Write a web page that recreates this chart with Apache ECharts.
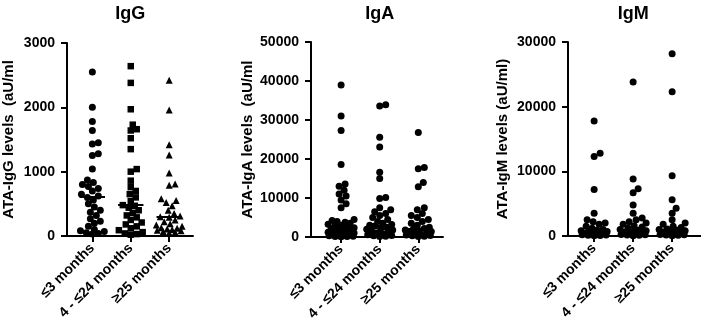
<!DOCTYPE html>
<html>
<head>
<meta charset="utf-8">
<script src="https://cdn.jsdelivr.net/npm/echarts@6/dist/echarts.min.js"></script>
<style>
  html, body { margin: 0; padding: 0; background: #fff; }
  #chart { width: 701px; height: 331px; }
</style>
</head>
<body>
<div id="chart"></div>
<script>
// categories
const groups = ['≤3 months', '4 - ≤24 months', '≥25 months'];
const panelTitles = ['IgG', 'IgA', 'IgM'];
const yNames = ['ATA-IgG levels  (aU/ml', 'ATA-IgA levels  (aU/ml', 'ATA-IgM levels (aU/ml)'];
const yMax = [3000, 50000, 30000];
const yStep = [1000, 10000, 10000];

// IgG
const iggShort = [2550, 2000, 1780, 1640, 1450, 1430, 1280, 1250, 1040, 870, 830, 800, 770, 740, 700, 650, 620, 600, 560, 500, 450, 400, 370, 320, 270, 230, 200, 150, 100, 80, 70, 50, 40, 30];
const iggMid = [2640, 2380, 1970, 1730, 1660, 1640, 1520, 1350, 1040, 1000, 860, 760, 700, 650, 600, 540, 480, 470, 440, 400, 360, 320, 290, 250, 210, 180, 150, 120, 90, 60, 40, 30, 20];
const iggLong = [2420, 1960, 1420, 1260, 980, 810, 790, 580, 550, 520, 470, 400, 350, 310, 300, 290, 250, 220, 190, 170, 150, 130, 120, 110, 100, 90, 80, 70, 60, 50];
const iggMedians = [610, 480, 300];

// IgA
const igaShort = [39000, 31000, 27300, 18600, 13600, 13000, 12000, 11000, 10500, 9500, 8500, 7500, 4500, 4200, 4000, 3800, 3500, 3300, 3000, 2800, 2600, 2400, 2200, 2000, 1800, 1600, 1400, 1200, 1000, 900, 800, 700, 600, 500, 400, 300, 200, 150, 100, 80];
const igaMid = [33900, 33600, 25600, 23100, 16600, 15000, 10100, 9900, 7500, 7000, 6500, 6000, 5500, 5000, 4500, 4000, 3500, 3200, 3000, 2800, 2500, 2200, 2000, 1800, 1500, 1200, 1000, 800, 600, 400, 300, 200, 100];
const igaLong = [26800, 17800, 17500, 14000, 12900, 7500, 7000, 6000, 5500, 5000, 4500, 4000, 3500, 3000, 2500, 2200, 2000, 1800, 1600, 1400, 1200, 1000, 800, 600, 500, 400, 300, 200, 100];
const igaMedians = [3000, 2800, 2100];

// IgM
const igmShort = [17800, 12800, 12300, 7200, 3500, 2500, 2200, 2000, 1800, 1500, 1200, 1000, 900, 800, 700, 600, 500, 450, 400, 350, 300, 250, 200, 150, 100, 80, 50];
const igmMid = [23800, 8800, 7300, 6700, 4800, 3500, 2800, 2500, 2200, 2000, 1800, 1600, 1400, 1200, 1000, 900, 800, 700, 600, 500, 400, 300, 250, 200, 150, 100, 50];
const igmLong = [28200, 22300, 9300, 5600, 4300, 3500, 2500, 2000, 1800, 1500, 1300, 1100, 1000, 900, 800, 700, 600, 500, 400, 300, 250, 200, 150, 100, 50];
const igmMedians = [600, 800, 700];

const panelData = [
  [iggShort, iggMid, iggLong],
  [igaShort, igaMid, igaLong],
  [igmShort, igmMid, igmLong]
];
const panelMedians = [iggMedians, igaMedians, igmMedians];
const symbols = [['circle', 'rect', 'triangle'], ['circle', 'circle', 'circle'], ['circle', 'circle', 'circle']];

// layout of each panel (px)
const grids = [
  { left: 66, top: 43, width: 127, height: 193, xMin: -0.66, xMax: 2.62, gap: 51 },
  { left: 311, top: 42, width: 132, height: 195, xMin: -0.78, xMax: 2.64, gap: 56 },
  { left: 568, top: 42, width: 133, height: 194, xMin: -0.67, xMax: 2.74, gap: 58 }
];

// simple beeswarm: spread points sideways so they don't overlap too much
function swarm(values, pxPerY, pxPerCat, maxPx, diam) {
  const order = values.map((v, i) => i).sort((a, b) => values[a] - values[b]);
  const placed = [];
  const xs = new Array(values.length);
  order.forEach(i => {
    const y = values[i] * pxPerY;
    let best = 0, bestScore = -1;
    for (let k = 0; k <= 2 * maxPx; k++) {
      const x = (k % 2 ? 1 : -1) * Math.ceil(k / 2);
      let minD = Infinity;
      placed.forEach(p => {
        const d = Math.hypot(p[0] - x, p[1] - y);
        if (d < minD) minD = d;
      });
      if (minD >= diam) { best = x; break; }
      if (minD > bestScore) { bestScore = minD; best = x; }
    }
    placed.push([best, y]);
    xs[i] = best / pxPerCat;
  });
  return xs;
}

const font = '"Liberation Sans", Arial, sans-serif';
const option = {
  animation: false,
  backgroundColor: '#fff',
  graphic: [], grid: [], xAxis: [], yAxis: [], series: []
};

grids.forEach((g, p) => {
  const pxPerCat = g.width / (g.xMax - g.xMin);
  // panel title centred over the middle group
  option.graphic.push({
    type: 'text',
    x: g.left + pxPerCat * (1 - g.xMin),
    y: 5,
    style: {
      text: panelTitles[p], textAlign: 'center', textVerticalAlign: 'top',
      font: 'bold 18px ' + font, fill: '#000'
    }
  });
  option.grid.push({ left: g.left, top: g.top, width: g.width, height: g.height });
  option.xAxis.push({
    type: 'value', gridIndex: p, min: g.xMin, max: g.xMax,
    axisLine: { show: true, onZero: false, lineStyle: { color: '#000', width: 2 } },
    axisTick: { show: true, customValues: [0, 1, 2], length: 6, lineStyle: { color: '#000', width: 2 } },
    axisLabel: {
      customValues: [0, 1, 2], rotate: 45, margin: 10,
      formatter: v => groups[Math.round(v)],
      fontFamily: font, fontSize: 14, fontWeight: 'bold', color: '#000'
    },
    splitLine: { show: false }
  });
  option.yAxis.push({
    type: 'value', gridIndex: p, min: 0, max: yMax[p], interval: yStep[p],
    name: yNames[p], nameLocation: 'middle', nameGap: g.gap,
    nameTextStyle: { fontFamily: font, fontSize: 15, fontWeight: 'bold', color: '#000' },
    axisLine: { show: true, onZero: false, lineStyle: { color: '#000', width: 2 } },
    axisTick: { show: true, length: 6, lineStyle: { color: '#000', width: 2 } },
    axisLabel: {
      margin: 12, formatter: v => String(v),
      fontFamily: font, fontSize: 14, fontWeight: 'bold', color: '#000'
    },
    splitLine: { show: false }
  });
  const pxPerY = g.height / yMax[p];
  panelData[p].forEach((vals, c) => {
    const xs = swarm(vals, pxPerY, pxPerCat, 13, 6);
    option.series.push({
      type: 'scatter', xAxisIndex: p, yAxisIndex: p,
      symbol: symbols[p][c], symbolSize: symbols[p][c] === 'rect' ? 6.5 : 7,
      itemStyle: { color: '#000', opacity: 1 },
      data: vals.map((v, i) => [c + xs[i], v])
    });
  });
  option.series.push({
    type: 'lines', coordinateSystem: 'cartesian2d', xAxisIndex: p, yAxisIndex: p, z: 5,
    lineStyle: { color: '#000', width: 2, opacity: 1 },
    data: panelMedians[p].map((m, c) => ({ coords: [[c - 0.33, m], [c + 0.33, m]] }))
  });
});

const chart = echarts.init(document.getElementById('chart'));
chart.setOption(option);
</script>
</body>
</html>
